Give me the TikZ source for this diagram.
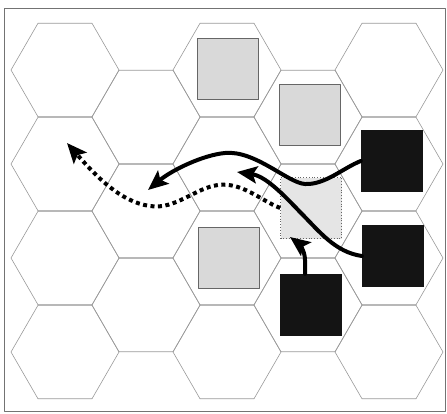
\documentclass[tikz,border=0pt]{standalone}
\usetikzlibrary{arrows.meta}
\begin{document}
\begin{tikzpicture}[x=1pt,y=-1pt, line join=round,
	hexline/.style={draw=gray!80,line width=.6pt},
	lightsq/.style={draw=black!60,line width=.8pt,fill=gray!30,minimum size=61pt,inner sep=0pt},
	ghostsq/.style={draw=black!60,dotted,line width=.8pt,fill=gray!20,minimum size=61pt,inner sep=0pt},
	darksq/.style={fill=black!92,minimum size=62pt,inner sep=0pt},
	movearr/.style={-{Stealth[length=20pt,width=17pt,inset=4pt]},line width=4pt,line cap=round},
	dotarr/.style={-{Stealth[length=20pt,width=17pt,inset=4pt]},line width=4pt,line cap=butt,dash pattern=on 4pt off 3.5pt}]
	\def\hr{54} \def\hdx{81} \def\hdy{94}
	\useasboundingbox (0,0) rectangle (447,413);
	\draw[black!55,line width=1pt] (4,8) rectangle (445,411);
	%hex grid
	\foreach \c in {0,2,4} \foreach \r in {0,...,3}
		\draw[hexline] ({65+\hdx*\c},{70+\hdy*\r}) +(0:\hr) -- +(60:\hr) -- +(120:\hr) -- +(180:\hr) -- +(240:\hr) -- +(300:\hr) -- cycle;
	\foreach \c in {1,3} \foreach \r in {0,...,2}
		\draw[hexline] ({65+\hdx*\c},{117+\hdy*\r}) +(0:\hr) -- +(60:\hr) -- +(120:\hr) -- +(180:\hr) -- +(240:\hr) -- +(300:\hr) -- cycle;
	%units
	\node[lightsq] (g1) at (228,69) {};
	\node[lightsq] (g2) at (310,115) {};
	\node[lightsq] (g3) at (229,258) {};
	\node[ghostsq] (tgt) at (311,208) {};
	\node[darksq] (b1) at (392,161) {};
	\node[darksq] (b2) at (393,256) {};
	\node[darksq] (b3) at (311,305) {};
	%moves
	\coordinate (tipA) at (148,190);
	\coordinate (tipB) at (237,172);
	\coordinate (tipC) at (290,237);
	\coordinate (tipD) at (67,143);
	\draw[movearr] (b1.west) .. controls (343,168) and (325,185) .. (305,184)
		.. controls (288,183) and (255,150) .. (225,153)
		.. controls (203,155) and (172,170) .. (tipA);
	\draw[movearr] (b2.west) .. controls (335,252) and (320,232) .. (300,212)
		.. controls (282,193) and (265,176) .. (tipB);
	\draw[movearr] ([xshift=-6pt]b3.north) -- (305,260) .. controls (305,250) and (298,243) .. (tipC);
	\draw[dotarr] (tgt.west) .. controls (260,200) and (242,182) .. (218,185)
		.. controls (195,188) and (175,210) .. (150,206)
		.. controls (120,202) and (95,175) .. (tipD);
\end{tikzpicture}
\end{document}
